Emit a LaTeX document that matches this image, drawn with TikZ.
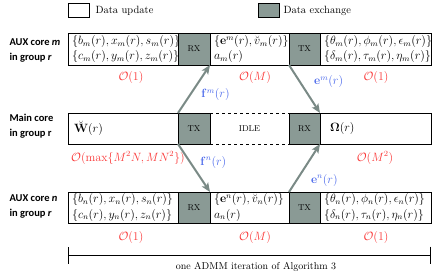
\documentclass[tikz,border=0pt]{standalone}
\usepackage{amsmath,amssymb}
\usepackage[no-math]{fontspec}
\newfontfamily\sidefont{Carlito}
\usetikzlibrary{positioning,arrows.meta}

\definecolor{xgray}{RGB}{138,154,149}
\definecolor{argray}{RGB}{122,138,134}
\definecolor{cred}{RGB}{250,55,55}
\definecolor{cblue}{RGB}{75,105,235}

\tikzset{
  upd/.style={draw,line width=0.9pt,outer sep=0pt,inner xsep=4pt,inner ysep=1pt,
    minimum height=31pt,text width=#1,align=left,font=\fontsize{12}{15}\selectfont},
  xch/.style={draw,fill=xgray,line width=0.9pt,outer sep=0pt,minimum height=31pt,
    font=\fontsize{8.5}{10}\selectfont},
  idle/.style={outer sep=0pt,minimum height=31pt,minimum width=79pt,
    font=\fontsize{8.5}{10}\selectfont},
  side/.style={anchor=west,align=left,font=\sidefont\bfseries\fontsize{10.5}{15}\selectfont},
  cplx/.style={text=cred,font=\fontsize{11.5}{13}\selectfont},
  sig/.style={argray,line width=2pt,-{Stealth[length=9pt,width=7.5pt,inset=2pt]}},
  siglbl/.style={text=cblue,font=\fontsize{11.5}{13}\selectfont},
  legbox/.style={draw,line width=0.8pt,minimum width=21pt,minimum height=14pt,outer sep=0pt},
  legtxt/.style={anchor=west,font=\fontsize{10.5}{12}\selectfont}
}

\begin{document}
\begin{tikzpicture}[x=1pt,y=-1pt]
\useasboundingbox (0,0) rectangle (436,275);

% legend
\node[legbox] (leg-u) at (79,10.5) {};
\node[legtxt] (leg-ut) at (92,10.5) {Data update};
\node[legbox,fill=xgray] (leg-x) at (269,10.5) {};
\node[legtxt] (leg-xt) at (280,10.5) {Data exchange};

% AUX core m
\node[side] (m-name) at (6,50) {AUX core \textit{m}\\in group \textit{r}};
\node[upd=102pt,minimum height=32pt,anchor=north west] (m-upd) at (68,33)
  {$\{b_m(r), x_m(r), s_m(r)\}$\\$\{c_m(r), y_m(r), z_m(r)\}$};
\node[xch,minimum width=32pt,minimum height=32pt,right=0pt of m-upd] (m-rx) {RX};
\node[upd=71pt,minimum height=32pt,right=0pt of m-rx] (m-mid)
  {$\{\mathbf{e}^m(r), \breve{v}_m(r)\}$\\$a_m(r)$};
\node[xch,minimum width=31pt,minimum height=32pt,right=0pt of m-mid] (m-tx) {TX};
\node[upd=103pt,minimum height=32pt,right=0pt of m-tx] (m-out)
  {$\{\theta_m(r), \phi_m(r), \epsilon_m(r)\}$\\$\{\delta_m(r), \tau_m(r), \eta_m(r)\}$};

% main core
\node[side] (main-name) at (6,126) {Main core\\in group r};
\node[upd=102pt,anchor=north west] (main-upd) at (68,113) {\hspace{2pt}$\breve{\mathbf{W}}(r)$};
\node[xch,minimum width=32pt,right=0pt of main-upd] (main-tx) {TX};
\node[idle,right=0pt of main-tx] (main-idle) {IDLE};
\node[xch,minimum width=31pt,right=0pt of main-idle] (main-rx) {RX};
\node[upd=103pt,right=0pt of main-rx] (main-out) {\hspace{6pt}$\boldsymbol{\Omega}(r)$};
\draw[dashed,line width=0.9pt] (main-idle.north west) -- (main-idle.north east)
  (main-idle.south west) -- (main-idle.south east);

% AUX core n
\node[side] (n-name) at (6,206) {AUX core \textit{n}\\in group \textit{r}};
\node[upd=102pt,anchor=north west] (n-upd) at (68,192)
  {$\{b_n(r), x_n(r), s_n(r)\}$\\$\{c_n(r), y_n(r), z_n(r)\}$};
\node[xch,minimum width=32pt,right=0pt of n-upd] (n-rx) {RX};
\node[upd=71pt,right=0pt of n-rx] (n-mid)
  {$\{\mathbf{e}^n(r), \breve{v}_n(r)\}$\\$a_n(r)$};
\node[xch,minimum width=31pt,right=0pt of n-mid] (n-tx) {TX};
\node[upd=103pt,right=0pt of n-tx] (n-out)
  {$\{\theta_n(r), \phi_n(r), \epsilon_n(r)\}$\\$\{\delta_n(r), \tau_n(r), \eta_n(r)\}$};

% complexity
\node[cplx] (m-c1) at (131,78) {$\mathcal{O}(1)$};
\node[cplx] (m-c2) at (255,78) {$\mathcal{O}(M)$};
\node[cplx] (m-c3) at (376,78) {$\mathcal{O}(1)$};
\node[cplx] (main-c1) at (128,158) {$\mathcal{O}(\max\{M^2N, MN^2\})$};
\node[cplx] (main-c3) at (375,158) {$\mathcal{O}(M^2)$};
\node[cplx] (n-c1) at (131,237) {$\mathcal{O}(1)$};
\node[cplx] (n-c2) at (255,237) {$\mathcal{O}(M)$};
\node[cplx] (n-c3) at (376,237) {$\mathcal{O}(1)$};

% exchanges
\draw[sig] (main-tx.north west) -- node[siglbl,pos=0.38,right=7pt] {$\mathbf{f}^m(r)$} (m-rx.south east);
\draw[sig] (m-tx.south west) -- node[siglbl,pos=0.35,right=10pt] {$\mathbf{e}^m(r)$} (main-rx.north east);
\draw[sig] (main-tx.south west) -- node[siglbl,pos=0.38,right=6pt] {$\mathbf{f}^n(r)$} (n-rx.north east);
\draw[sig] (n-tx.north west) -- node[siglbl,pos=0.25,right=10pt] {$\mathbf{e}^n(r)$} (main-rx.south east);

% one iteration
\coordinate (it-l) at (68,255);
\coordinate (it-r) at (431,255);
\draw[line width=0.8pt,{Bar[width=17pt]}-{Bar[width=17pt]}] (it-l) -- (it-r);
\node[font=\fontsize{10}{12}\selectfont] (it-txt) at (256,267) {one ADMM iteration of Algorithm 3};
\end{tikzpicture}
\end{document}
